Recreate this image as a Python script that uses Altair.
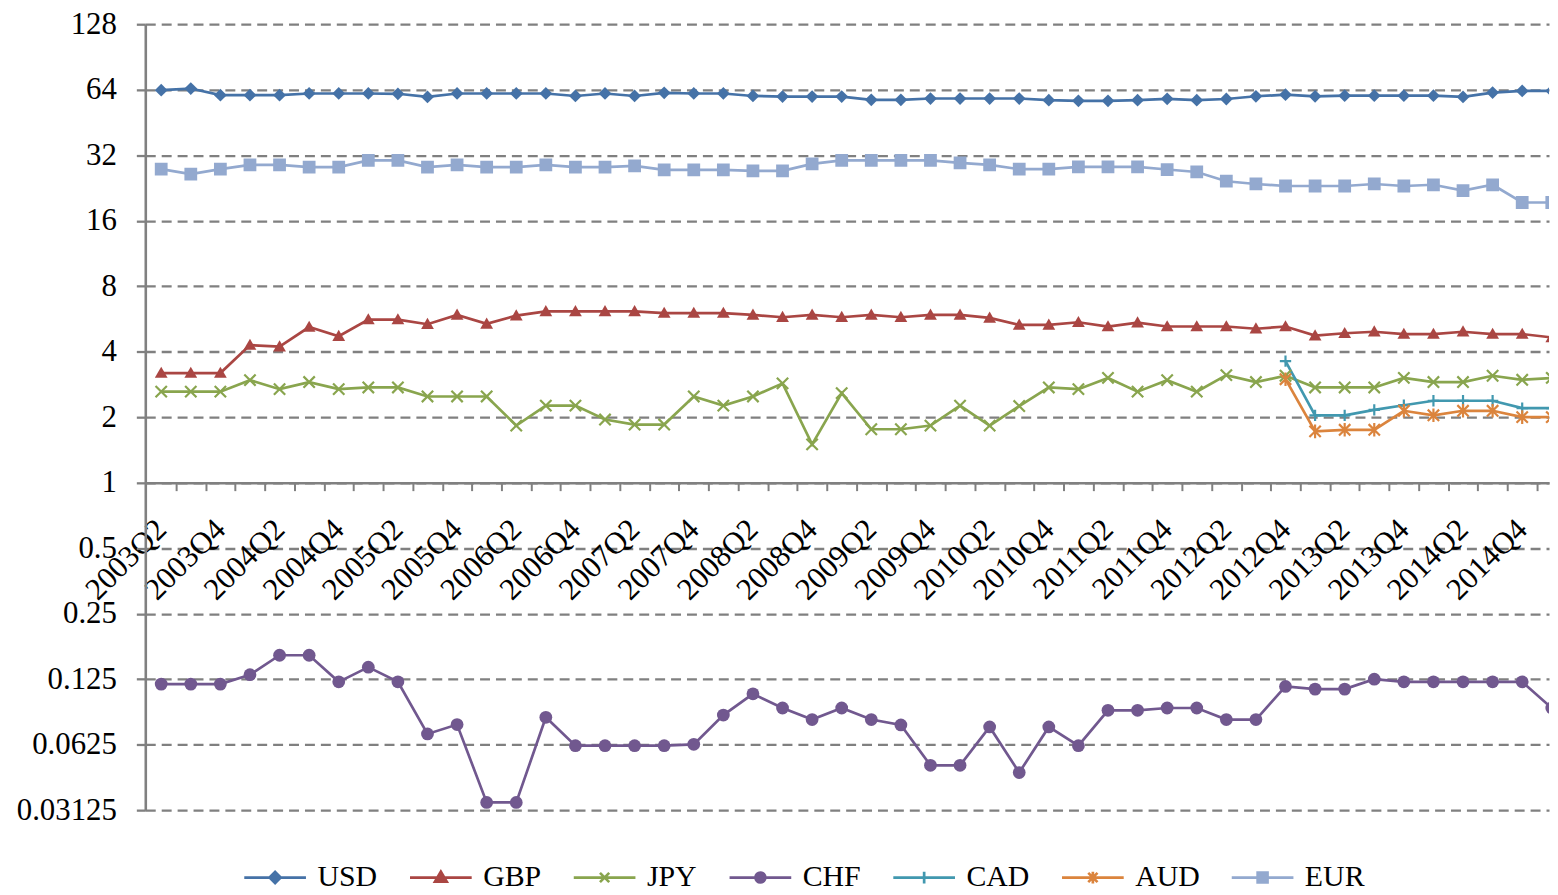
import json
import altair as alt
import pandas as pd

# ---------------- data ----------------
QUARTERS = [
    "2003Q2", "2003Q3", "2003Q4", "2004Q1", "2004Q2", "2004Q3", "2004Q4", "2005Q1",
    "2005Q2", "2005Q3", "2005Q4", "2006Q1", "2006Q2", "2006Q3", "2006Q4", "2007Q1",
    "2007Q2", "2007Q3", "2007Q4", "2008Q1", "2008Q2", "2008Q3", "2008Q4", "2009Q1",
    "2009Q2", "2009Q3", "2009Q4", "2010Q1", "2010Q2", "2010Q3", "2010Q4", "2011Q1",
    "2011Q2", "2011Q3", "2011Q4", "2012Q1", "2012Q2", "2012Q3", "2012Q4", "2013Q1",
    "2013Q2", "2013Q3", "2013Q4", "2014Q1", "2014Q2", "2014Q3", "2014Q4", "2015Q1",
]
CURRENCIES = ["USD", "GBP", "JPY", "CHF", "CAD", "AUD", "EUR"]
COLORS = ["#4572A7", "#AA4643", "#89A54E", "#71588F", "#4198AF", "#DB843D", "#93A9CF"]

USD = [63.7, 64.8, 60.4, 60.4, 60.4, 61.5, 61.5, 61.5, 61.3, 59.3, 61.5, 61.5,
       61.5, 61.5, 59.9, 61.5, 59.9, 61.9, 61.5, 61.5, 59.9, 59.5, 59.5, 59.5,
       57.5, 57.5, 58.3, 58.3, 58.3, 58.3, 57.3, 56.9, 56.9, 57.3, 58.1, 57.3,
       58.0, 59.7, 60.7, 59.7, 60.1, 60.1, 60.1, 60.1, 59.3, 62.1, 63.2, 63.2]
GBP = [3.19, 3.19, 3.19, 4.29, 4.22, 5.19, 4.71, 5.62, 5.62, 5.35, 5.90, 5.37,
       5.86, 6.13, 6.13, 6.13, 6.13, 6.02, 6.02, 6.02, 5.90, 5.76, 5.90, 5.76,
       5.90, 5.76, 5.90, 5.90, 5.72, 5.31, 5.31, 5.46, 5.22, 5.44, 5.22, 5.22,
       5.22, 5.10, 5.22, 4.74, 4.86, 4.94, 4.82, 4.82, 4.94, 4.82, 4.82, 4.65]
JPY = [2.62, 2.62, 2.62, 2.96, 2.69, 2.90, 2.69, 2.74, 2.74, 2.49, 2.49, 2.49,
       1.83, 2.26, 2.26, 1.95, 1.85, 1.85, 2.49, 2.26, 2.49, 2.86, 1.50, 2.58,
       1.76, 1.76, 1.83, 2.26, 1.83, 2.25, 2.74, 2.69, 3.03, 2.62, 2.96, 2.62,
       3.12, 2.90, 3.10, 2.74, 2.74, 2.74, 3.03, 2.90, 2.90, 3.10, 2.97, 3.03]
CHF = [0.1186, 0.1186, 0.1186, 0.131, 0.161, 0.161, 0.1215, 0.1419, 0.1215, 0.070,
       0.0773, 0.0339, 0.0339, 0.0835, 0.0618, 0.0618, 0.0618, 0.0618, 0.0627, 0.0855,
       0.107, 0.0921, 0.0815, 0.0921, 0.0815, 0.0770, 0.0502, 0.0502, 0.0754, 0.0465,
       0.0754, 0.0618, 0.0899, 0.0899, 0.0921, 0.0921, 0.0815, 0.0815, 0.1157, 0.1125,
       0.1125, 0.125, 0.1215, 0.1215, 0.1215, 0.1215, 0.1215, 0.0921]
CAD_START = "2012Q4"
CAD = [3.62, 2.04, 2.04, 2.16, 2.27, 2.38, 2.38, 2.38, 2.20, 2.20]
AUD_START = "2012Q4"
AUD = [2.99, 1.72, 1.75, 1.75, 2.14, 2.04, 2.14, 2.14, 2.00, 2.00]
EUR = [27.6, 26.2, 27.6, 28.9, 28.9, 28.2, 28.2, 30.3, 30.3, 28.2, 28.9, 28.2,
       28.2, 28.9, 28.2, 28.2, 28.6, 27.4, 27.4, 27.4, 27.1, 27.1, 29.2, 30.3,
       30.3, 30.3, 30.3, 29.5, 28.9, 27.6, 27.6, 28.3, 28.3, 28.3, 27.5, 26.8,
       24.3, 23.6, 23.1, 23.1, 23.1, 23.6, 23.1, 23.4, 22.0, 23.4, 19.4, 19.4]

Y_TICKS = [128, 64, 32, 16, 8, 4, 2, 1, 0.5, 0.25, 0.125, 0.0625, 0.03125]

SERIES = [
    ("USD", USD, QUARTERS[0]),
    ("GBP", GBP, QUARTERS[0]),
    ("JPY", JPY, QUARTERS[0]),
    ("CHF", CHF, QUARTERS[0]),
    ("CAD", CAD, CAD_START),
    ("AUD", AUD, AUD_START),
    ("EUR", EUR, QUARTERS[0]),
]

rows = []
for cur, vals, start in SERIES:
    s = QUARTERS.index(start)
    for i, v in enumerate(vals):
        rows.append({"idx": s + i, "quarter": QUARTERS[s + i], "cur": cur, "val": v})
df = pd.DataFrame(rows)

# ---------------- styling ----------------
FONT = "Liberation Serif"
GRID = "#808080"
W, H = 1411, 790
X_DOMAIN = [-0.538, 46.906]
BAND = W / (X_DOMAIN[1] - X_DOMAIN[0])

MARKER_PATHS = {
    "USD": "M0,-1L1,0L0,1L-1,0Z",
    "GBP": "M0,-1L1,0.75L-1,0.75Z",
    "JPY": "M-1,-1L1,1M-1,1L1,-1",
    "CHF": "circle",
    "CAD": "M-1,0L1,0M0,-1L0,1",
    "AUD": "M-1,-1L1,1M-1,1L1,-1M0,-1.2L0,1.2",
    "EUR": "square",
}


def _diamond(r):
    return f"M0,{-r}L{r},0L0,{r}L{-r},0Z"


def _tri(r):
    return f"M0,{-r}L{r},{0.7 * r:.3f}L{-r},{0.7 * r:.3f}Z"


def _circ(r):
    return f"M{-r},0A{r},{r},0,1,0,{r},0A{r},{r},0,1,0,{-r},0Z"


def _sq(r):
    return f"M{-r},{-r}L{r},{-r}L{r},{r}L{-r},{r}Z"


LINE = "M-1,0L1,0"
LEGEND_PATHS = {
    "USD": LINE + _diamond(0.18) + _diamond(0.11) + _diamond(0.04),
    "GBP": LINE + _tri(0.19) + _tri(0.11) + _tri(0.04),
    "JPY": LINE + "M-0.15,-0.15L0.15,0.15M-0.15,0.15L0.15,-0.15",
    "CHF": LINE + _circ(0.16) + _circ(0.09) + _circ(0.03),
    "CAD": LINE + "M0,-0.19L0,0.19",
    "AUD": LINE + "M-0.15,-0.15L0.15,0.15M-0.15,0.15L0.15,-0.15M0,-0.19L0,0.19",
    "EUR": LINE + _sq(0.16) + _sq(0.09) + _sq(0.03),
}


def color_scale():
    return alt.Scale(domain=CURRENCIES, range=COLORS)


marker_scale = alt.Scale(domain=CURRENCIES, range=[MARKER_PATHS[c] for c in CURRENCIES])
legend_shape_scale = alt.Scale(domain=CURRENCIES, range=[LEGEND_PATHS[c] for c in CURRENCIES])

label_expr = (
    "(round(datum.value - 0.5) % 2 == 0) ? "
    + json.dumps(QUARTERS)
    + "[round(datum.value - 0.5)] : ''"
)

x_enc = alt.X(
    "idx:Q",
    scale=alt.Scale(domain=X_DOMAIN, nice=False, zero=False),
    axis=alt.Axis(
        title=None,
        values=[k + 0.5 for k in range(47)],
        labelExpr=label_expr,
        labelAngle=-45,
        labelAlign="right",
        labelBaseline="middle",
        labelFont=FONT,
        labelFontSize=31,
        labelColor="black",
        labelPadding=34,
        labelOffset=-BAND / 2,
        labelFlush=False,
        labelOverlap=False,
        labelBound=False,
        tickSize=8,
        tickWidth=2,
        tickColor=GRID,
        domainColor=GRID,
        domainWidth=2.6,
        grid=False,
        offset=-H * 5 / 12,
    ),
)
y_enc = alt.Y(
    "val:Q",
    scale=alt.Scale(type="log", base=2, domain=[0.03125, 128], nice=False),
    axis=alt.Axis(
        title=None,
        values=Y_TICKS,
        labelExpr="'' + datum.value",
        labelFont=FONT,
        labelFontSize=31,
        labelColor="black",
        labelPadding=20,
        labelOverlap=False,
        labelFlush=False,
        tickSize=9,
        tickWidth=2.3,
        tickColor=GRID,
        domainColor=GRID,
        domainWidth=2.6,
        grid=True,
        gridColor=GRID,
        gridDash=[10, 6],
        gridWidth=2.3,
    ),
)

base = alt.Chart(df)

lines = base.mark_line(strokeWidth=2.7, clip=True, opacity=1).encode(
    x=x_enc,
    y=y_enc,
    color=alt.Color("cur:N", scale=color_scale(), legend=None),
    detail="cur:N",
)

filled_pts = base.transform_filter(
    alt.FieldOneOfPredicate(field="cur", oneOf=["USD", "GBP", "CHF", "EUR"])
).mark_point(filled=True, clip=True, opacity=1).encode(
    x=x_enc,
    y=y_enc,
    color=alt.Color("cur:N", scale=color_scale(), legend=None),
    shape=alt.Shape("cur:N", scale=marker_scale, legend=None),
    size=alt.value(165),
)

stroked_pts = base.transform_filter(
    alt.FieldOneOfPredicate(field="cur", oneOf=["JPY", "CAD", "AUD"])
).mark_point(filled=False, clip=True, opacity=1, strokeWidth=2.2).encode(
    x=x_enc,
    y=y_enc,
    color=alt.Color("cur:N", scale=color_scale(), legend=None),
    shape=alt.Shape("cur:N", scale=marker_scale, legend=None),
    size=alt.value(130),
)

leg = alt.Legend(
    title=None,
    orient="none",
    legendX=98,
    legendY=825,
    direction="horizontal",
    columns=7,
    labelFont=FONT,
    labelFontSize=30,
    labelColor="black",
    labelOffset=10,
    columnPadding=26.6,
    symbolSize=3844,
    symbolStrokeWidth=2.7,
    symbolFillColor="transparent",
    symbolOffset=0,
    padding=0,
)

legend_layer = base.transform_filter("false").mark_point(
    filled=False, opacity=1, strokeWidth=2.7
).encode(
    x=x_enc,
    y=y_enc,
    color=alt.Color("cur:N", scale=color_scale(), legend=leg),
    shape=alt.Shape("cur:N", scale=legend_shape_scale, legend=leg),
)

chart = (
    alt.layer(lines, filled_pts, stroked_pts, legend_layer)
    .resolve_scale(shape="independent", color="independent")
    .properties(
        width=W,
        height=H,
        autosize=alt.AutoSizeParams(type="none"),
        padding={"left": 138, "top": 14, "right": 1, "bottom": 83},
        background="white",
    )
    .configure_view(strokeWidth=0)
)

chart.save("out.html", embed_options={"renderer": "svg", "actions": False})
